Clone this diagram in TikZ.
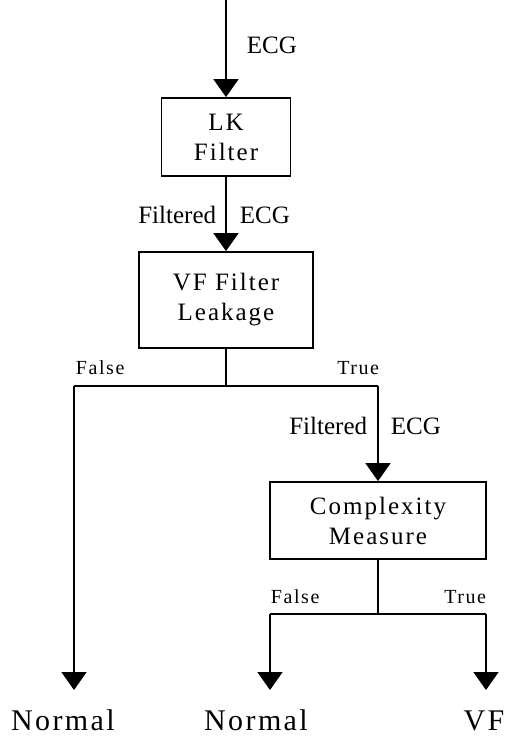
\documentclass[tikz,border=0pt]{standalone}
\usepackage{fontspec}
\setmainfont{Liberation Serif}
\usetikzlibrary{arrows.meta}
\begin{document}
\begin{tikzpicture}[x=1pt,y=-1pt,line width=1.8pt,
  box/.style={draw,inner sep=0pt,align=center,
    font=\fontsize{25}{30}\selectfont\addfontfeature{LetterSpace=8}},
  arr/.style={-{Triangle[width=25pt,length=18pt]}},
  lbl/.style={inner sep=0pt,font=\fontsize{25}{30}\selectfont},
  tf/.style={inner sep=0pt,font=\fontsize{20}{24}\selectfont\addfontfeature{LetterSpace=8}},
  outl/.style={inner sep=0pt,font=\fontsize{30}{36}\selectfont\addfontfeature{LetterSpace=8}}]
\useasboundingbox (0,0) rectangle (505,740);
\fill[white] (0,0) rectangle (505,740);
% boxes
\node[box,minimum width=129pt,minimum height=78pt] (lk) at (226,137) {LK\\Filter};
\node[box,minimum width=174pt,minimum height=96pt] (vf) at (226,300) {VF Filter\\Leakage};
\node[box,minimum width=216pt,minimum height=77pt] (cm) at (378,520.5) {Complexity\\Measure};
% coordinates
\coordinate (top) at (226,0);
\coordinate (j1) at (226,386);
\coordinate (l1) at (74,386);
\coordinate (r1) at (378,386);
\coordinate (j2) at (378,614);
\coordinate (l2) at (270,614);
\coordinate (r2) at (486,614);
\coordinate (t1) at (74,690);
\coordinate (t2) at (270,690);
\coordinate (t3) at (486,690);
% connectors
\draw[arr] (top) -- (lk.north);
\draw[arr] (lk.south) -- (vf.north);
\draw (vf.south) -- (j1);
\draw (l1) -- (r1);
\draw[arr] (l1) -- (t1);
\draw[arr] (r1) -- (cm.north);
\draw (cm.south) -- (j2);
\draw (l2) -- (r2);
\draw[arr] (l2) -- (t2);
\draw[arr] (r2) -- (t3);
% labels
\node[lbl,anchor=base west] (e1) at (246,53) {ECG};
\node[lbl,anchor=base east] (f1) at (217,223) {Filtered};
\node[lbl,anchor=base west] (e2) at (239,223) {ECG};
\node[tf,anchor=base west] (fa1) at (75,374) {False};
\node[tf,anchor=base east] (tr1) at (380,374) {True};
\node[lbl,anchor=base east] (f2) at (368,434) {Filtered};
\node[lbl,anchor=base west] (e3) at (390,434) {ECG};
\node[tf,anchor=base west] (fa2) at (270,603) {False};
\node[tf,anchor=base east] (tr2) at (487,603) {True};
\node[outl,anchor=base] (o1) at (63,730) {Normal};
\node[outl,anchor=base] (o2) at (256,730) {Normal};
\node[outl,anchor=base] (o3) at (484,730) {VF};
\end{tikzpicture}
\end{document}
